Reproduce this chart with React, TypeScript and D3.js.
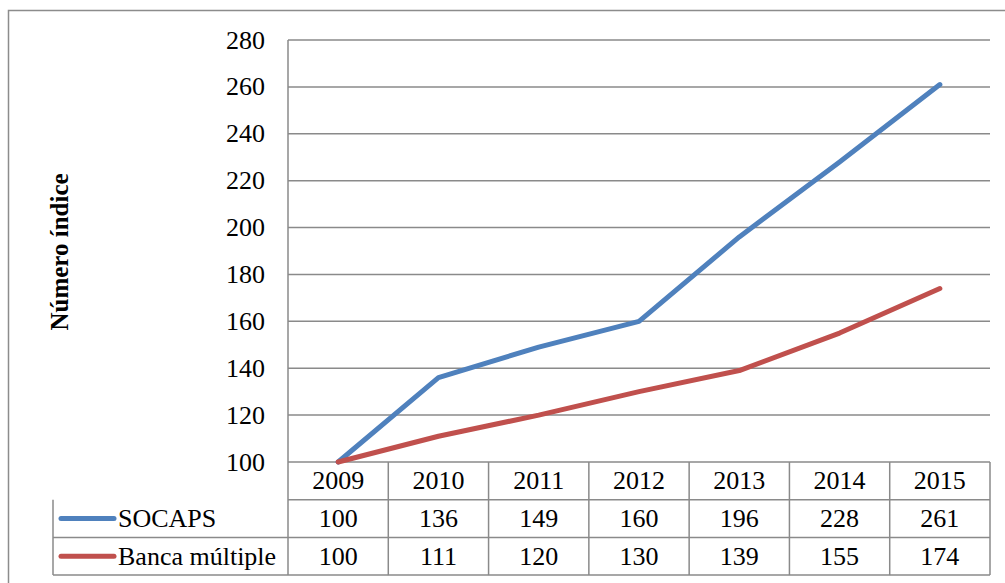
import React from "react";
import * as d3 from "d3";

const years = ["2009", "2010", "2011", "2012", "2013", "2014", "2015"];
const socaps = [100, 136, 149, 160, 196, 228, 261];
const banca = [100, 111, 120, 130, 139, 155, 174];
const seriesNames = ["SOCAPS", "Banca múltiple"];
const yTicks = [100, 120, 140, 160, 180, 200, 220, 240, 260, 280];

const W = 1005;
const H = 583;
const left = 288;
const right = 990;
const top = 40;
const bottom = 462;
const rowH = 37.7;
const tableLeft = 53;
const font = "Liberation Serif";
const grid = "#8a8a8a";
const colors = ["#4F81BD", "#C0504D"];

export default function App() {
  const x = d3.scaleBand<string>().domain(years).range([left, right]);
  const y = d3.scaleLinear().domain([100, 280]).range([bottom, top]);
  const cx = (d: string) => (x(d) as number) + x.bandwidth() / 2;
  const line = d3
    .line<number>()
    .x((_, i) => cx(years[i]))
    .y((v) => y(v));
  const series = [socaps, banca];
  const tableBottom = bottom + rowH * 3;

  return (
    <div style={{ position: "absolute", left: 0, top: 0 }}>
      <svg width={W} height={H} style={{ display: "block" }}>
        <rect x={0} y={0} width={W} height={H} fill="#fff" />
        <rect x={8.5} y={10.5} width={1200} height={700} fill="none" stroke="#8c8c8c" strokeWidth={1.5} />
        {yTicks.map((t) => (
          <g key={t}>
            <line x1={left} x2={right} y1={y(t)} y2={y(t)} stroke={grid} strokeWidth={1.5} />
            <text x={265} y={y(t)} textAnchor="end" dominantBaseline="central" fontSize={26} fontFamily={font} fill="#000">
              {t}
            </text>
          </g>
        ))}
        <line x1={left} x2={left} y1={top} y2={tableBottom} stroke={grid} strokeWidth={1.5} />
        <text
          transform={`translate(59,252) rotate(-90)`}
          textAnchor="middle"
          dominantBaseline="central"
          fontSize={25}
          fontFamily={font}
          fontWeight="bold"
          fill="#000"
        >
          Número índice
        </text>
        {[1, 2, 3].map((r) => (
          <line
            key={r}
            x1={r === 1 ? left : tableLeft}
            x2={right}
            y1={bottom + rowH * r}
            y2={bottom + rowH * r}
            stroke={grid}
            strokeWidth={1.5}
          />
        ))}
        <line x1={tableLeft} x2={tableLeft} y1={bottom + rowH} y2={tableBottom} stroke={grid} strokeWidth={1.5} />
        {years.map((yr) => (
          <line
            key={yr}
            x1={(x(yr) as number) + x.bandwidth()}
            x2={(x(yr) as number) + x.bandwidth()}
            y1={bottom}
            y2={tableBottom}
            stroke={grid}
            strokeWidth={1.5}
          />
        ))}
        {years.map((yr) => (
          <text key={yr} x={cx(yr)} y={bottom + rowH / 2} textAnchor="middle" dominantBaseline="central" fontSize={26} fontFamily={font}>
            {yr}
          </text>
        ))}
        {series.map((s, si) => (
          <g key={si}>
            {s.map((v, i) => (
              <text
                key={i}
                x={cx(years[i])}
                y={bottom + rowH * (si + 1.5)}
                textAnchor="middle"
                dominantBaseline="central"
                fontSize={26}
                fontFamily={font}
              >
                {v}
              </text>
            ))}
            <line
              x1={61}
              x2={114}
              y1={bottom + rowH * (si + 1.5)}
              y2={bottom + rowH * (si + 1.5)}
              stroke={colors[si]}
              strokeWidth={5}
              strokeLinecap="round"
            />
            <text x={118} y={bottom + rowH * (si + 1.5)} dominantBaseline="central" fontSize={26} fontFamily={font}>
              {seriesNames[si]}
            </text>
          </g>
        ))}
        {series.map((s, si) => (
          <path
            key={si}
            d={line(s) as string}
            fill="none"
            stroke={colors[si]}
            strokeWidth={5}
            strokeLinejoin="round"
            strokeLinecap="round"
          />
        ))}
      </svg>
    </div>
  );
}
